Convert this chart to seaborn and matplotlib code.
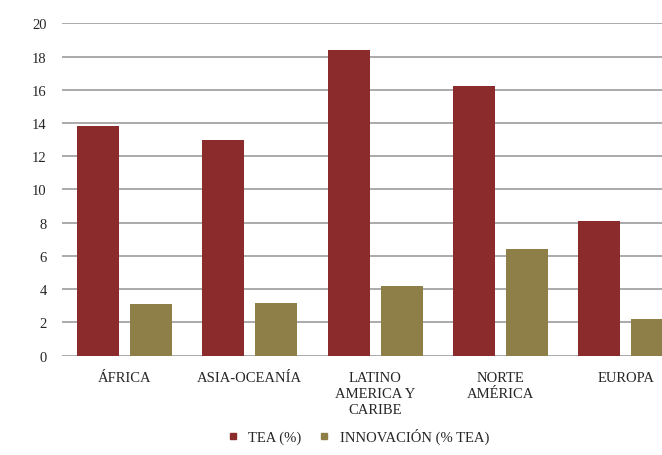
import matplotlib
matplotlib.use("Agg")
import matplotlib.pyplot as plt
import seaborn as sns
import pandas as pd
from matplotlib.lines import Line2D

regions = ["ÁFRICA", "ASIA-OCEANÍA", "LATINO\nAMERICA Y\nCARIBE", "NORTE\nAMÉRICA", "EUROPA"]
tea = [13.8, 13.0, 18.4, 16.2, 8.1]
innovacion = [3.1, 3.2, 4.2, 6.4, 2.2]
series = ["TEA (%)", "INNOVACIÓN (% TEA)"]
colors = ["#8B2B2B", "#8E7E47"]
yticks = list(range(0, 21, 2))

df = pd.DataFrame({
    "region": regions * 2,
    "valor": tea + innovacion,
    "serie": [series[0]] * len(regions) + [series[1]] * len(regions),
})

sns.set_theme(style="white")
plt.rcParams["font.family"] = ["Liberation Serif", "DejaVu Serif"]

fig = plt.figure(figsize=(6.62, 4.56), dpi=100)
ax = fig.add_axes([0.0937, 0.2178, 0.946, 0.7289])

sns.barplot(data=df, x="region", y="valor", hue="serie", palette=colors,
            width=0.846, gap=0.208, ax=ax, legend=False, saturation=1,
            linewidth=0)

ax.set_ylim(0, 20)
ax.set_xlim(-0.5, 4.5)
ax.set_yticks(yticks)
ax.yaxis.grid(True, color="#9c9c9c", linewidth=1.2)
ax.set_axisbelow(True)
for s in ax.spines.values():
    s.set_visible(False)
ax.set_xlabel("")
ax.set_ylabel("")
ax.tick_params(axis="y", length=0, pad=11, labelsize=10.5, labelcolor="#262626")
ax.tick_params(axis="x", length=0, pad=11, labelsize=10.5, labelcolor="#262626")
for lbl in ax.get_xticklabels():
    lbl.set_verticalalignment("top")
    lbl.set_linespacing(1.3)

handles = [Line2D([0], [0], marker="s", linestyle="", markersize=4.5,
                  markerfacecolor=c, markeredgecolor=c) for c in colors]
fig.legend(handles, series, loc="center", bbox_to_anchor=(0.534, 0.042),
           ncol=2, frameon=False, fontsize=10.5, handletextpad=0.05,
           columnspacing=0.6, labelcolor="#262626")

fig.savefig("out.png", dpi=100)
